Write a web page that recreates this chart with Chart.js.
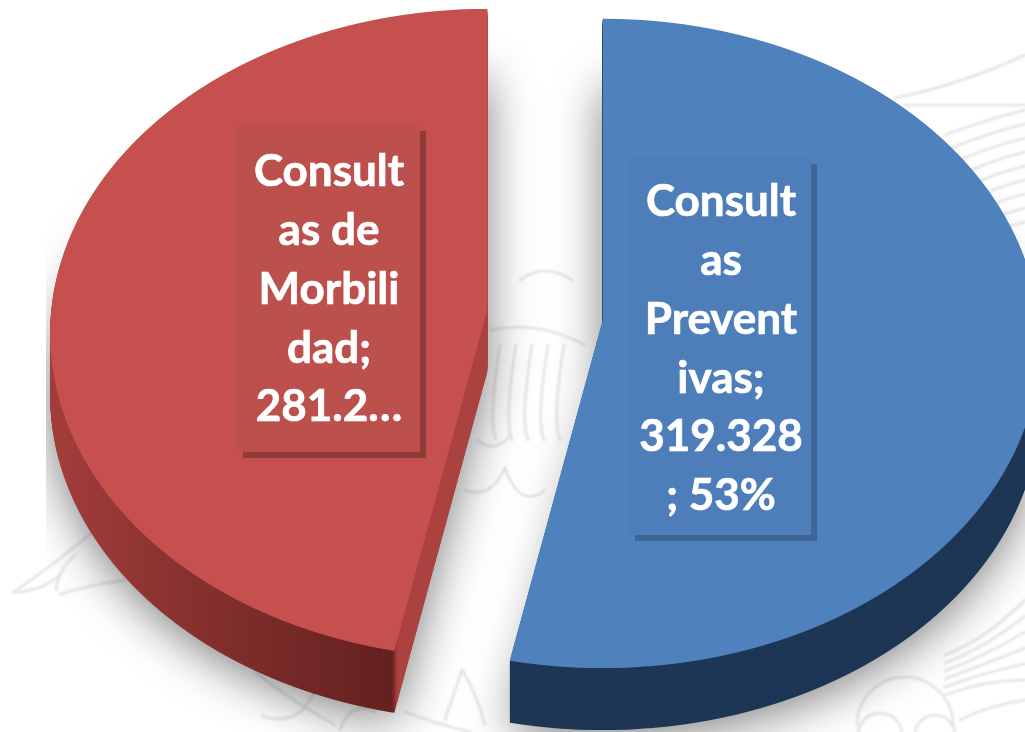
<!DOCTYPE html>
<html><head><meta charset="utf-8">
<style>html,body{margin:0;padding:0;background:#fff;overflow:hidden}canvas{display:block}</style>
<script src="https://cdn.jsdelivr.net/npm/chart.js@4"></script>
</head><body><canvas id="c" width="1025" height="732"></canvas>
<script>
const categories = ['Consultas Preventivas', 'Consultas de Morbilidad'];
const values = [319328, 281200];
const topColors = ['#4f81bd', '#c5504e'];
const labelLines = [
  ['Consult', 'as', 'Prevent', 'ivas;', '319.328', '; 53%'],
  ['Consult', 'as de', 'Morbili', 'dad;', '281.2…']
];

const W = 1025, H = 732;
const CX = 545, CY = 315, RX = 436, RY = 323, P = 0.0724, DEPTH = 62, OFF = 169, EXPLODE = 58;
const boxes = [
  {x:629, y:158, w:182, h:377, fill:'#4d7eb9', shade:'#3f6696', tx:721, ty:202},
  {x:237, y:125, w:183, h:327, fill:'#bc504d', shade:'#8e3b3a', tx:329, ty:172}
];

function mid(a){ return (a.startAngle + a.endAngle) / 2; }
function drawSlice(ctx, a, fill){
  const m = mid(a), c = a.circumference;
  const t = OFF / 4;
  const fix = 1 - Math.sin(Math.min(Math.PI, c));
  const S = a.outerRadius + t * fix;
  const offx = Math.cos(m) * t, offy = Math.sin(m) * t;
  const apexX = CX + Math.cos(m) * EXPLODE;
  const apexY = CY + Math.sin(m) * EXPLODE * 0.85;
  const saved = a.options, s0 = a.startAngle, e0 = a.endAngle;
  // the arc path trims its span when offset; widen it so the cut edges keep their true angle
  const delta = (t * fix / Math.PI) / (2 * S);
  a.startAngle = s0 - delta; a.endAngle = e0 + delta;
  a.options = Object.assign({}, saved, {backgroundColor: fill});
  for (let Yi = 0; Yi < H; Yi++) {
    const rel = Yi + 0.5 - apexY;
    const v0 = rel / (RY + P * rel);
    if (v0 < -1.03 || v0 > 1.03) continue;
    const w = 1 - P * v0;
    const dYdv = RY / (w * w);
    const ax = RX / (S * w), dy = dYdv / S;
    ctx.save();
    ctx.beginPath(); ctx.rect(0, Yi, W, 1); ctx.clip();
    ctx.setTransform(ax, 0, 0, dy, apexX - ax * (a.x + offx), Yi + 0.5 - v0 * dYdv - dy * (a.y + offy));
    a.draw(ctx);
    ctx.restore();
  }
  a.options = saved; a.startAngle = s0; a.endAngle = e0;
}

function watermark(ctx){
  ctx.save();
  ctx.filter = 'blur(1px)';
  ctx.strokeStyle = '#e3e3e3'; ctx.lineWidth = 2.5; ctx.lineCap = 'round';
  const curve = (x0,y0,cx,cy,x1,y1)=>{ctx.beginPath();ctx.moveTo(x0,y0);ctx.quadraticCurveTo(cx,cy,x1,y1);ctx.stroke();};
  // left wing
  curve(14,592,60,560,95,530); curve(14,592,40,592,60,575); curve(56,590,58,570,75,555); curve(60,594,90,585,125,580);
  // gap feathers
  for (let i=0;i<5;i++){ curve(500+i*16,345,488+i*16,420,496+i*16,440); }
  curve(465,490,490,500,505,468); curve(505,468,520,510,545,490); curve(477,440,495,455,510,435);
  curve(520,280,545,262,572,280); curve(490,330,540,320,585,345);
  // bottom left feathers
  curve(255,672,290,700,335,725); curve(262,716,300,728,315,690); curve(340,730,350,700,375,712);
  curve(445,720,455,690,462,670); curve(462,670,475,690,485,725); curve(405,712,440,725,470,732);
  // upper right hatch
  curve(895,98,960,85,1025,55); curve(905,105,960,105,1025,105);
  for (let i=0;i<9;i++){ curve(945+i*4,135+i*14,985,120+i*14,1025,110+i*14); }
  // lower right sun
  ctx.beginPath(); ctx.arc(905,725,48,Math.PI,2*Math.PI); ctx.stroke();
  ctx.beginPath(); ctx.arc(880,735,22,Math.PI,2*Math.PI); ctx.stroke();
  ctx.beginPath(); ctx.arc(935,735,20,Math.PI,2*Math.PI); ctx.stroke();
  for (let i=0;i<6;i+=1){ curve(945,655-i*-8,985,640+i*8,1025,600+i*16); }
  curve(960,720,990,705,1025,700);
  ctx.restore();
}

const pie3d = {
  id:'pie3d',
  beforeDatasetsDraw(chart){
    const ctx = chart.ctx;
    const arcs = chart.getDatasetMeta(0).data;
    watermark(ctx);
    const off = document.createElement('canvas'); off.width = W; off.height = H;
    const o = off.getContext('2d');
    const sil = [];
    arcs.forEach(a=>{
      const c = document.createElement('canvas'); c.width = W; c.height = H;
      drawSlice(c.getContext('2d'), a, '#000');
      sil.push(c); o.drawImage(c, 0, 0);
    });
    // soft ground shadow
    ctx.save();
    ctx.beginPath(); ctx.rect(46, 0, W, H); ctx.clip();
    ctx.globalAlpha = 0.5; ctx.filter = 'blur(24px)';
    ctx.drawImage(off, 0, 70);
    ctx.restore();
    // side walls
    const sideFills = [
      ()=>'#1e3655',
      (g)=>{ const lg = g.createLinearGradient(50,0,490,0);
        lg.addColorStop(0,'#a43e3c'); lg.addColorStop(0.28,'#8a3331'); lg.addColorStop(0.775,'#632120');
        lg.addColorStop(0.78,'#772524'); lg.addColorStop(0.79,'#ab4341'); lg.addColorStop(1,'#ab4341'); return lg; }
    ];
    arcs.forEach((a,i)=>{
      const g = sil[i].getContext('2d');
      g.globalCompositeOperation = 'source-in';
      g.fillStyle = sideFills[i](g); g.fillRect(0,0,W,H);
      for (let d = DEPTH; d >= 1; d--) ctx.drawImage(sil[i], 0, d);
    });
    // top faces, drawn by the library's own arc elements
    arcs.forEach(a=> drawSlice(ctx, a, a.options.backgroundColor));
    return false;
  },
  afterDraw(chart){
    const ctx = chart.ctx;
    ctx.save();
    boxes.forEach((b,i)=>{
      ctx.fillStyle = b.shade; ctx.fillRect(b.x+6, b.y+6, b.w, b.h);
      ctx.fillStyle = b.fill; ctx.fillRect(b.x, b.y, b.w, b.h);
      ctx.fillStyle = '#fff'; ctx.strokeStyle = '#fff'; ctx.lineWidth = 0.7; ctx.font = 'bold 44px Lato'; ctx.textAlign = 'center'; ctx.textBaseline = 'middle';
      labelLines[i].forEach((t,j)=> { ctx.fillText(t, b.tx, b.ty + j * 58.8); ctx.strokeText(t, b.tx, b.ty + j * 58.8); });
    });
    ctx.restore();
  }
};

new Chart(document.getElementById('c'), {
  type:'pie',
  data:{labels:categories, datasets:[{data:values, backgroundColor:topColors, borderWidth:0, offset:OFF, clip:false}]},
  options:{responsive:false, animation:false, plugins:{legend:{display:false}, tooltip:{enabled:false}}},
  plugins:[pie3d]
});
</script></body></html>
